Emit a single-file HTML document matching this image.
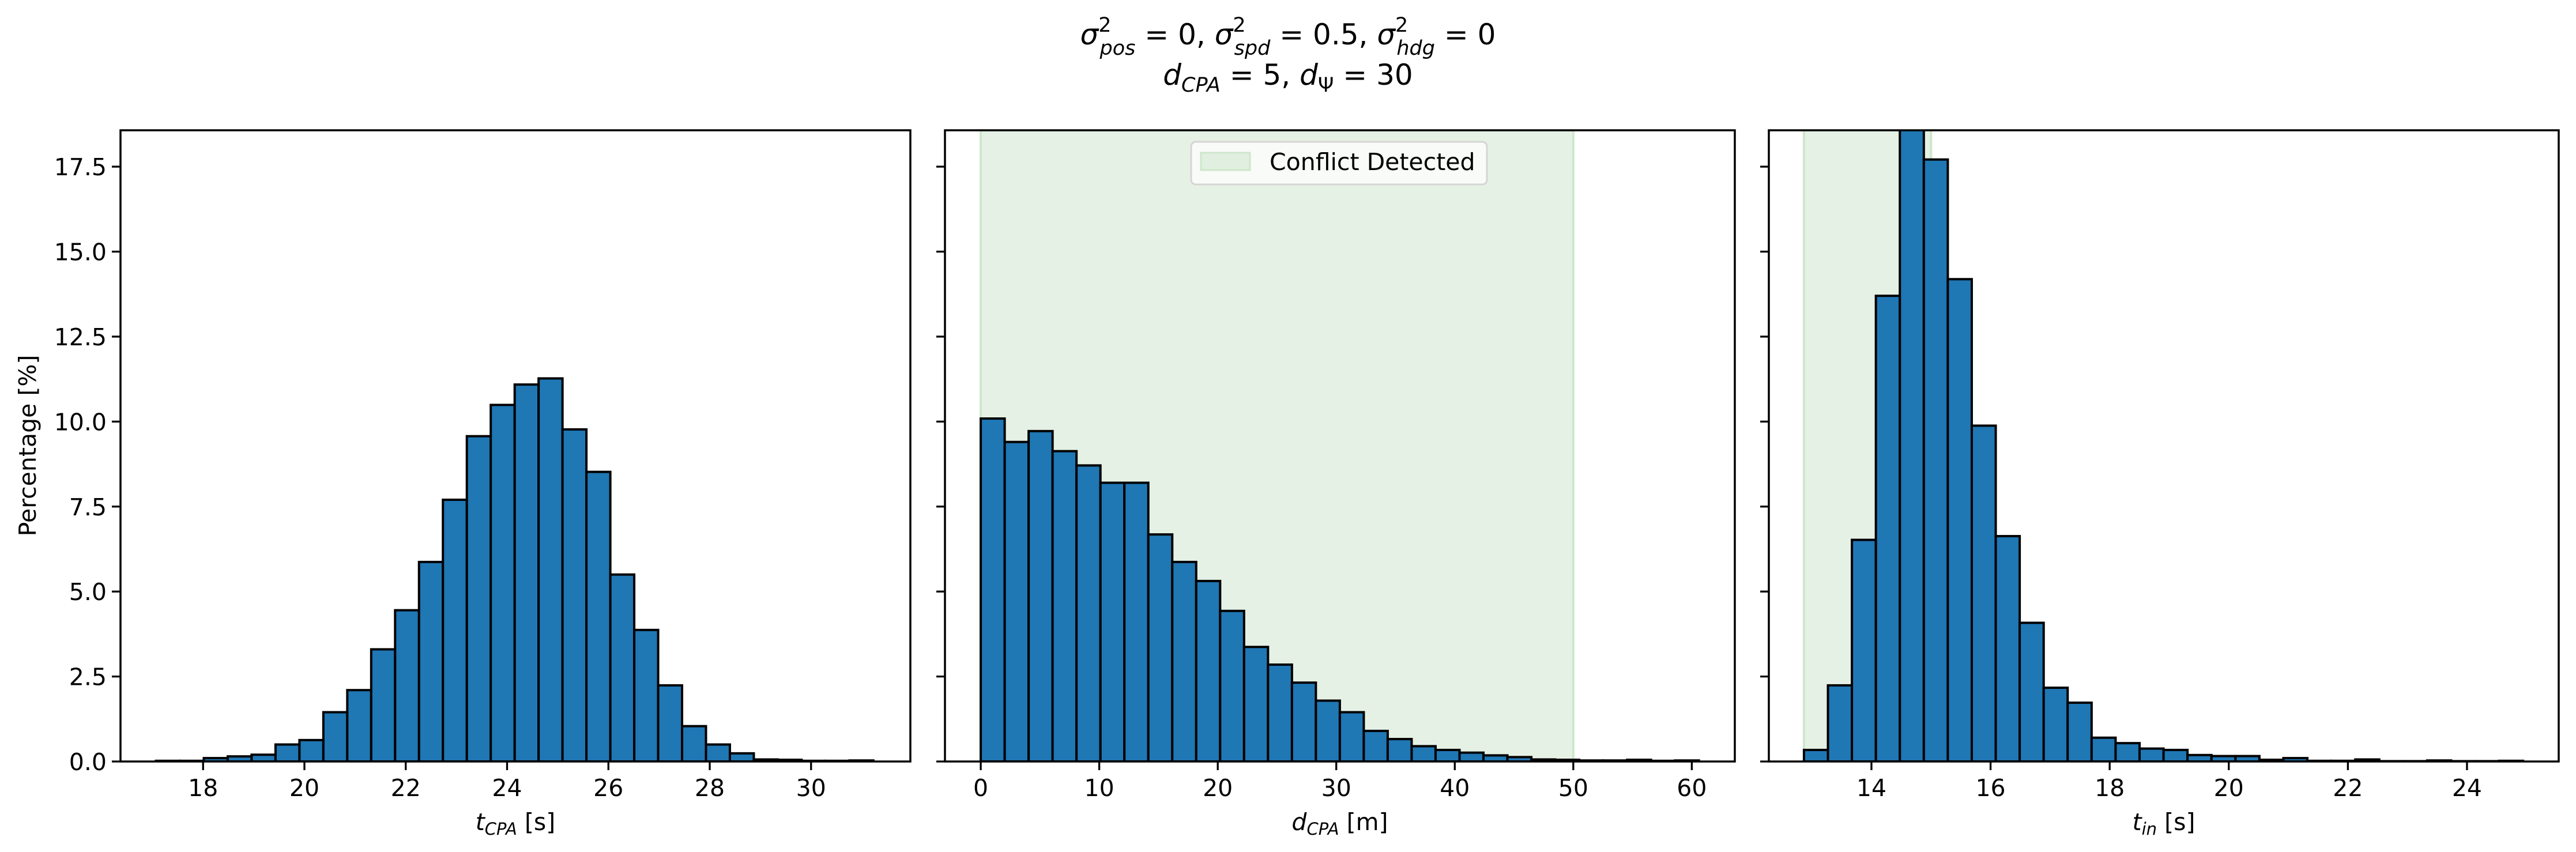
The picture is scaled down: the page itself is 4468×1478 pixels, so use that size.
<!DOCTYPE html>
<html><head><meta charset="utf-8">
<style>
html,body{margin:0;padding:0;background:#fff;}
body{width:4468px;height:1478px;overflow:hidden;}
svg{display:block;font-family:"DejaVu Sans","Liberation Sans",sans-serif;}
</style></head>
<body>
<svg id="fig" width="4468" height="1478" viewBox="0 0 4468 1478" xmlns="http://www.w3.org/2000/svg">
  <g font-size="50" text-anchor="middle" fill="#000">
    <text x="2234" y="77"><tspan font-style="italic">σ</tspan><tspan font-size="35" dy="-22">2</tspan><tspan font-size="35" font-style="italic" dx="-20" dy="40">pos</tspan><tspan dy="-18"> = 0, </tspan><tspan font-style="italic">σ</tspan><tspan font-size="35" dy="-22">2</tspan><tspan font-size="35" font-style="italic" dx="-20" dy="40">spd</tspan><tspan dy="-18"> = 0.5, </tspan><tspan font-style="italic">σ</tspan><tspan font-size="35" dy="-22">2</tspan><tspan font-size="35" font-style="italic" dx="-20" dy="40">hdg</tspan><tspan dy="-18"> = 0</tspan></text>
    <text x="2234" y="147"><tspan font-style="italic">d</tspan><tspan font-size="35" font-style="italic" dy="12">CPA</tspan><tspan dy="-12"> = 5, </tspan><tspan font-style="italic">d</tspan><tspan font-size="35" dy="12">Ψ</tspan><tspan dy="-12"> = 30</tspan></text>
  </g>
  <g id="panels"></g>
</svg>
<script>
// ---- data ----
const tcpaBinStart = 17.07;
const tcpaBinWidth = 0.472;
const tcpaValues = [0.02,0.02,0.1,0.15,0.2,0.5,0.63,1.45,2.1,3.3,4.45,5.87,7.7,9.57,10.49,11.09,11.27,9.77,8.52,5.5,3.87,2.24,1.04,0.5,0.24,0.06,0.05,0.02,0.02,0.03];
const tcpaTicks = [18,20,22,24,26,28,30];

const dcpaBinStart = 0;
const dcpaBinWidth = 2.02;
const dcpaValues = [10.09,9.4,9.72,9.13,8.71,8.2,8.2,6.68,5.87,5.31,4.43,3.37,2.85,2.32,1.79,1.45,0.9,0.66,0.45,0.34,0.26,0.18,0.13,0.06,0.05,0.03,0.03,0.05,0.02,0.03];
const dcpaTicks = [0,10,20,30,40,50,60];
const dcpaSpan = [0,50];

const tinBinStart = 12.867;
const tinBinWidth = 0.4025;
const tinValues = [0.34,2.24,6.52,13.7,18.9,17.71,14.19,9.88,6.63,4.08,2.17,1.73,0.7,0.54,0.38,0.34,0.19,0.16,0.16,0.05,0.1,0.02,0.02,0.06,0.01,0.01,0.03,0.01,0.01,0.02];
const tinTicks = [14,16,18,20,22,24];
const tinSpan = [12.867,15.0];

const yTicks = [0,2.5,5,7.5,10,12.5,15,17.5];
const yTickLabels = ["0.0","2.5","5.0","7.5","10.0","12.5","15.0","17.5"];
const yMax = 18.57;

// ---- layout ----
const NS = "http://www.w3.org/2000/svg";
const axTop = 226, axBottom = 1321, W = 1370;
const panelsG = document.getElementById('panels');
function mk(tag, attrs, parent){
  const e = document.createElementNS(NS, tag);
  for (const k in attrs) e.setAttribute(k, attrs[k]);
  parent.appendChild(e); return e;
}
function yS(v){ return axBottom - (v / yMax) * (axBottom - axTop); }

function panel(name, left, xmin, xmax, start, width, values, ticks, span, labelMain, labelSub, labelUnit, showY, legend){
  const xS = v => left + (v - xmin) / (xmax - xmin) * W;
  const g = mk('g', {}, panelsG);
  
  
  const cid = name + '-clip';
  const cp = mk('clipPath', {id: cid}, g);
  mk('rect', {x: left, y: axTop, width: W, height: axBottom - axTop}, cp);
  const inner = mk('g', {'clip-path': 'url(#' + cid + ')'}, g);
  if (span){
    const s = mk('rect', {x: xS(span[0]), y: axTop, width: xS(span[1]) - xS(span[0]), height: axBottom - axTop, fill: '#e5f1e4', stroke: '#cfe6cc', 'stroke-width': 4}, inner);
    
    
  }
  values.forEach((v, i) => {
    const x0 = xS(start + i * width), x1 = xS(start + (i + 1) * width);
    const r = mk('rect', {x: x0, y: yS(v), width: x1 - x0, height: axBottom - yS(v), fill: '#1f77b4', stroke: '#000', 'stroke-width': 4}, inner);
    
    
  });
  const fr = mk('rect', {x: left, y: axTop, width: W, height: axBottom - axTop, fill: 'none', stroke: '#000', 'stroke-width': 3.5}, g);
  
  
  ticks.forEach(t => {
    const x = xS(t);
    mk('line', {x1: x, x2: x, y1: axBottom, y2: axBottom + 15, stroke: '#000', 'stroke-width': 3.3}, g);
    const tx = mk('text', {x: x, y: 1381, 'font-size': 41, 'text-anchor': 'middle'}, g);
    tx.textContent = String(t);
    
    
  });
  yTicks.forEach((t, i) => {
    const y = yS(t);
    mk('line', {x1: left - 15, x2: left, y1: y, y2: y, stroke: '#000', 'stroke-width': 3.3}, g);
    if (showY){
      const tx = mk('text', {x: left - 24, y: y + 15, 'font-size': 41, 'text-anchor': 'end'}, g);
      tx.textContent = yTickLabels[i];
      
      
    }
  });
  const xl = mk('text', {x: left + W / 2, y: 1440, 'font-size': 41, 'text-anchor': 'middle'}, g);
  
  
  const a = mk('tspan', {'font-style': 'italic'}, xl); a.textContent = labelMain;
  const b = mk('tspan', {'font-style': 'italic', 'font-size': 29, dy: 8}, xl); b.textContent = labelSub;
  const c = mk('tspan', {dy: -8}, xl); c.textContent = ' ' + labelUnit;
  if (legend){
    const lg = mk('g', {}, g);
    
    
    mk('rect', {x: 2066, y: 246, width: 513, height: 74, rx: 8, fill: '#fbfdfb', 'fill-opacity': 0.85, stroke: '#d5d5d5', 'stroke-width': 3}, lg);
    const p = mk('rect', {x: 2083, y: 265, width: 85, height: 30, fill: '#e0efdf', stroke: '#cfe6cc', 'stroke-width': 3}, lg);
    
    
    const lt = mk('text', {x: 2202, y: 295, 'font-size': 41}, lg);
    lt.textContent = 'Conflict Detected';
    
    
  }
}

panel('tcpa-histogram', 209, 16.37, 31.96, tcpaBinStart, tcpaBinWidth, tcpaValues, tcpaTicks, null, 't', 'CPA', '[s]', true, false);
panel('dcpa-histogram', 1639, -3.02, 63.63, dcpaBinStart, dcpaBinWidth, dcpaValues, dcpaTicks, dcpaSpan, 'd', 'CPA', '[m]', false, true);
panel('tin-histogram', 3068, 12.277, 25.54, tinBinStart, tinBinWidth, tinValues, tinTicks, tinSpan, 't', 'in', '[s]', false, false);

const yl = mk('text', {x: 0, y: 0, 'font-size': 41, 'text-anchor': 'middle', transform: 'translate(62,773) rotate(-90)'}, document.getElementById('fig'));
yl.textContent = 'Percentage [%]';


</script>
</body></html>
